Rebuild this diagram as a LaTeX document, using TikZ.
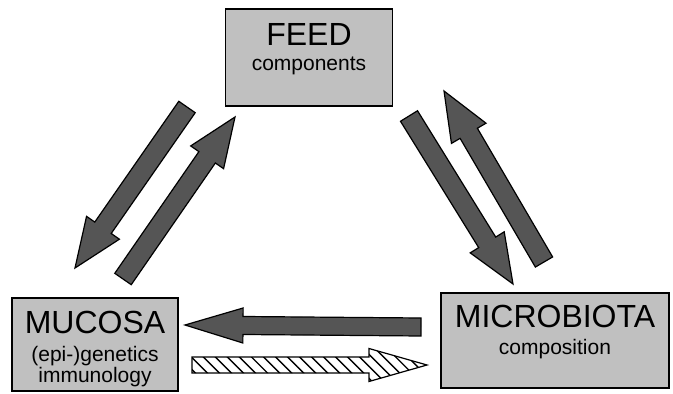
\documentclass[tikz,border=0pt]{standalone}
\usepackage{fontspec}
\setmainfont{Liberation Sans}
\usetikzlibrary{calc,patterns.meta}
\definecolor{boxgray}{RGB}{192,192,192}
\definecolor{arrowgray}{RGB}{85,85,85}
\tikzset{
    grey-box/.style = {draw=black, fill=boxgray, line width=1.2pt, rectangle, inner sep=0pt},
    box-title/.style = {font=\fontsize{32}{36}\selectfont, anchor=base, inner sep=0pt},
    box-sub/.style = {font=\fontsize{21}{24}\selectfont, anchor=base, inner sep=0pt},
    solid-arrow/.style = {draw=black, fill=arrowgray, line width=1.2pt, line join=miter},
    hatched-arrow/.style = {draw=black, line width=1.2pt, pattern={Lines[angle=-45,distance=8.5pt,line width=1.4pt]}},
}
% block arrow: style, tail, tip, head length, head half width, shaft half width
\newcommand{\blockarrow}[6]{%
    \coordinate (#2-base) at ($(#3)!#4!(#2)$);
    \path[#1] ($(#2)!#6!90:(#3)$) -- ($(#2-base)!#6!90:(#3)$) -- ($(#2-base)!#5!90:(#3)$)
        -- (#3) -- ($(#2-base)!#5!-90:(#3)$) -- ($(#2-base)!#6!-90:(#3)$)
        -- ($(#2)!#6!-90:(#3)$) -- cycle;
}

\begin{document}
\begin{tikzpicture}[x=1pt, y=-1pt]
\useasboundingbox (0,0) rectangle (673,394);

% boxes
\node[grey-box, minimum width=167pt, minimum height=97pt] (feed) at (309,57.5) {};
\node[grey-box, minimum width=166pt, minimum height=93pt] (mucosa) at (95,344.5) {};
\node[grey-box, minimum width=228pt, minimum height=95pt] (microbiota) at (555,340.5) {};

\node[box-title] (feed-title) at ($(feed.north)+(0,37)$) {FEED};
\node[box-sub] (feed-sub) at ($(feed.north)+(0,62)$) {components};
\node[box-title] (mucosa-title) at ($(mucosa.north)+(0,36)$) {MUCOSA};
\node[box-sub] (mucosa-sub1) at ($(mucosa.north)+(0,64)$) {(epi-)genetics};
\node[box-sub] (mucosa-sub2) at ($(mucosa.north)+(0,85)$) {immunology};
\node[box-title] (microbiota-title) at ($(microbiota.north)+(0,35)$) {MICROBIOTA};
\node[box-sub] (microbiota-sub) at ($(microbiota.north)+(0,62)$) {composition};

% arrow ends
\coordinate (fm-tail) at (187,107);
\coordinate (fm-tip) at (75,268);
\coordinate (mf-tail) at (123,279);
\coordinate (mf-tip) at (235,117);
\coordinate (fb-tail) at (409,116);
\coordinate (fb-tip) at (513,284);
\coordinate (bf-tail) at (544,262);
\coordinate (bf-tip) at (444,91);
\coordinate (bm-tail) at (421,327);
\coordinate (bm-tip) at (185,325);
\coordinate (mb-tail) at (192,365);
\coordinate (mb-tip) at (427,365);

\blockarrow{solid-arrow}{fm-tail}{fm-tip}{49pt}{20pt}{10pt}
\blockarrow{solid-arrow}{mf-tail}{mf-tip}{49pt}{20pt}{10pt}
\blockarrow{solid-arrow}{fb-tail}{fb-tip}{49pt}{20pt}{10pt}
\blockarrow{solid-arrow}{bf-tail}{bf-tip}{49pt}{20pt}{10pt}
\blockarrow{solid-arrow}{bm-tail}{bm-tip}{58pt}{17.5pt}{9pt}
\blockarrow{hatched-arrow}{mb-tail}{mb-tip}{58pt}{16.5pt}{8pt}
\end{tikzpicture}
\end{document}
